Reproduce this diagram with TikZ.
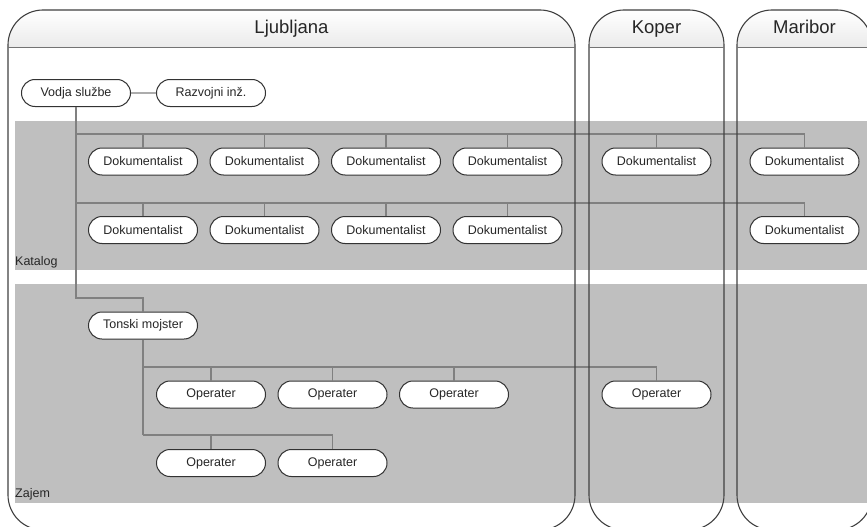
\documentclass[tikz,border=0pt]{standalone}
\usepackage{fontspec}
\setmainfont{Liberation Sans}
\usetikzlibrary{shapes, positioning}

\begin{document}
\begin{tikzpicture}[x=1pt,y=-1pt,on grid,node distance=68.5pt and 121.5pt,
	post/.style={rounded rectangle,draw=black!80,line width=1pt,fill=white,text=black!85,minimum width=109pt,minimum height=27pt,inner sep=0pt,font=\fontsize{12.5}{14}\selectfont},
	lane/.style={draw=black!75,line width=1.1pt,rounded corners=35pt},
	band/.style={fill=black!25},
	link/.style={draw=black!50,line width=1.4pt},
	title/.style={anchor=base,text=black!85,font=\fontsize{18.5}{20}\selectfont},
	group/.style={anchor=base west,text=black!85,inner sep=0pt,font=\fontsize{12.5}{14}\selectfont}]
	\useasboundingbox (0,0) rectangle (867,527);
	\clip (0,0) rectangle (867,527);
	\foreach \l/\r in {8/575,589/724,737/872}{
		\begin{scope}
			\clip[rounded corners=35pt] (\l,10) rectangle (\r,530);
			\shade[top color=white,bottom color=black!8] (\l,10) rectangle (\r,47.5);
		\end{scope}}
	\fill[band] (15,121) rectangle (867,270);
	\fill[band] (15,284) rectangle (867,503);
	\node[group] (katalog) at (15,265) {Katalog};
	\node[group] (zajem) at (15,497) {Zajem};

	\node[post] (vodja) at (76,93) {Vodja službe};
	\node[post] (razvoj) [right=135pt of vodja] {Razvojni inž.};
	\node[post] (dok11) at (143,161.5) {Dokumentalist};
	\node[post] (dok12) [right=of dok11] {Dokumentalist};
	\node[post] (dok13) [right=of dok12] {Dokumentalist};
	\node[post] (dok14) [right=of dok13] {Dokumentalist};
	\node[post] (dokk1) at (656.5,161.5) {Dokumentalist};
	\node[post] (dokm1) at (804.5,161.5) {Dokumentalist};
	\node[post] (dok21) [below=of dok11] {Dokumentalist};
	\node[post] (dok22) [below=of dok12] {Dokumentalist};
	\node[post] (dok23) [below=of dok13] {Dokumentalist};
	\node[post] (dok24) [below=of dok14] {Dokumentalist};
	\node[post] (dokm2) [below=of dokm1] {Dokumentalist};
	\node[post] (tonski) at (143,325.5) {Tonski mojster};
	\node[post] (op11) at (211,394.5) {Operater};
	\node[post] (op12) [right=of op11] {Operater};
	\node[post] (op13) [right=of op12] {Operater};
	\node[post] (opk1) at (656.5,394.5) {Operater};
	\node[post] (op21) [below=of op11] {Operater};
	\node[post] (op22) [below=of op12] {Operater};

	\coordinate (bus1) at (76,134);
	\coordinate (bus2) at (76,203);
	\coordinate (turn) at (76,298);
	\coordinate (bus3) at (143,367);
	\coordinate (bus4) at (143,435);

	\path[link] (vodja) edge (razvoj);
	\draw[link] (vodja.south) -- (turn) -| (tonski.north);
	\foreach \n in {dok11,dok12,dok13,dok14,dokk1,dokm1}
		\draw[link] (bus1) -| (\n.north);
	\foreach \n in {dok21,dok22,dok23,dok24,dokm2}
		\draw[link] (bus2) -| (\n.north);
	\draw[link] (tonski.south) -- (bus4);
	\foreach \n in {op11,op12,op13,opk1}
		\draw[link] (bus3) -| (\n.north);
	\foreach \n in {op21,op22}
		\draw[link] (bus4) -| (\n.north);

	\foreach \l/\r in {8/575,589/724,737/872}{
		\draw[lane] (\l,10) rectangle (\r,530);
		\draw[black!55,line width=1.8pt] (\l,47.5) -- (\r,47.5);}
	\node[title] (ljubljana) at (291.5,34) {Ljubljana};
	\node[title] (koper) at (656.5,34) {Koper};
	\node[title] (maribor) at (804.5,34) {Maribor};
\end{tikzpicture}
\end{document}
